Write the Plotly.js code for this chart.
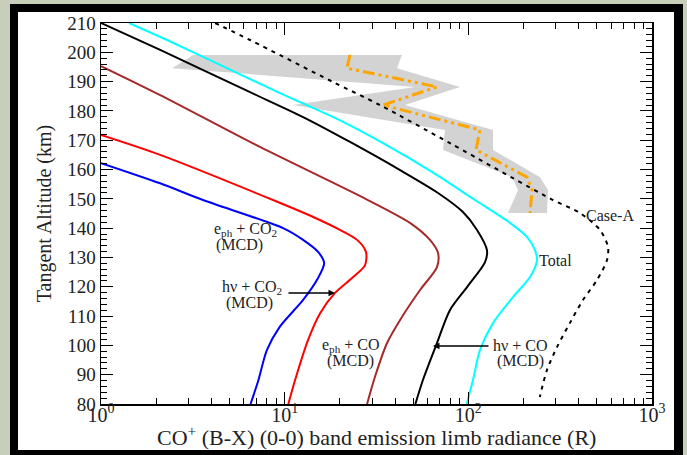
<!DOCTYPE html>
<html><head><meta charset="utf-8">
<script src="https://cdn.plot.ly/plotly-3.0.1.min.js"></script>
<style>
html{margin:0;padding:0;
  background:
    linear-gradient(#ffffff,#ffffff) 18px 12px / 656px 438px no-repeat,
    linear-gradient(#000000,#000000) 10px 4px / 673px 451px no-repeat,
    #c7cfbb;}
body{margin:0;padding:0;background:transparent;}
#chart{width:687px;height:455px;}
</style>
</head><body><div id="chart"></div>
<script>
// e_ph + CO2 (MCD)
const blueAlt = [162.2,155.3,149.6,140.0,136.0,131.9,128.1,123.0,115.5,106.3,98.4,88.2,80];
const blueVal = [1.0,2.10,3.59,9.8,12.6,15.2,16.4,15.2,12.6,9.4,8.0,7.2,6.52];
// hv + CO2 (MCD)
const redAlt = [171.8,165.0,149.6,143.8,139.4,136.0,131.9,127.4,123.3,117.9,111.0,101.8,88.2,80];
const redVal = [1.0,2.10,8.64,14.3,20.0,24.8,27.7,27.4,23.6,18.8,15.6,13.4,11.4,10.47];
// e_ph + CO (MCD)
const brownAlt = [195.3,185.4,167.7,149.6,141.8,136.0,131.5,126.7,118.9,109.7,100.8,89.2,80];
const brownVal = [1.0,2.10,7.34,28.4,48.1,61.8,68.4,67.5,54.6,43.5,36.1,31.0,28.1];
// hv + CO (MCD)
const blackAlt = [210,200.8,186.4,177.9,169.4,159.8,152.0,145.5,139.4,132.5,128.4,119.9,112.1,100.8,88.2,80];
const blackVal = [1.0,2.10,6.48,12.6,22.7,42.5,68.4,93.5,111.5,126.3,123.3,98.4,79.5,67.5,56.6,51.5];
// Total
const totalAlt = [210,204.2,195.7,186.1,177.6,169.0,159.2,149.6,141.8,137.0,132.5,129.1,123.3,116.5,107.6,98.4,88.2,80];
const totalVal = [1.42,2.29,4.45,9.43,18.8,34.3,63.4,108.7,168.6,208.5,230.5,236.5,216.7,175,136.2,115.7,106,98];
// Case-A
const caseAAlt = [210,204.2,189.9,182.0,169.0,149.6,145.2,139.4,133.6,129.1,122.3,115.5,107.6,99.4,91.6,82.4];
const caseAVal = [4.18,6.48,18.3,33.0,79.5,289,405,521,576,569,502,421,357,304,268,245];
// Observation with uncertainty band
const obsAlt = [199.1,194.6,188.2,182.0,173.5,166.7,157.4,153.0,145.2];
const obsVal = [22.7,21.8,67.5,34.3,115.7,110.1,208.5,222.4,216.7];
const obsLow = [3.17,2.44,51.2,11.1,74.6,72.8,172.9,186.4,164.4];
const obsHigh = [43.5,40.9,90.1,45.2,136.2,136.2,245.6,271.5,268.1];

const xTickVals = [1,10,100,1000];
const xTickText = ['10<sup>0</sup>','10<sup>1</sup>','10<sup>2</sup>','10<sup>3</sup>'];

const X0=101, X1=652, Y0=404, Y1=23;
const pxX = x => (x-X0)/(X1-X0);
const pxY = y => (Y0-y)/(Y0-Y1);

const serif = 'Liberation Serif, Times New Roman, serif';
function line(x,y,color,extra){return Object.assign({type:'scatter',mode:'lines',x:x,y:y,line:{color:color,width:2,shape:'spline',smoothing:0.8},hoverinfo:'skip',showlegend:false},extra||{});}

const traces = [
  {type:'scatter',mode:'lines',x:obsLow.concat(obsHigh.slice().reverse()),y:obsAlt.concat(obsAlt.slice().reverse()),
   fill:'toself',fillcolor:'#d3d3d3',line:{width:0,color:'#d3d3d3'},showlegend:false,hoverinfo:'skip'},
  line(blueVal,blueAlt,'#0000ff'),
  line(redVal,redAlt,'#ff0000'),
  line(brownVal,brownAlt,'#a52a2a'),
  line(blackVal,blackAlt,'#000000'),
  line(totalVal,totalAlt,'#00ffff'),
  line(caseAVal,caseAAlt,'#000000',{line:{color:'#000',width:2,dash:'4px,5px',shape:'spline',smoothing:0.8}}),
  line(obsVal,obsAlt,'#ffa500',{line:{color:'#ffa500',width:3,dash:'12px,4px,3px,4px,3px,4px'}})
];

function txt(t,x,y,xanchor,size){return {text:t,xref:'paper',yref:'paper',x:pxX(x),y:pxY(y),xanchor:xanchor||'center',yanchor:'middle',showarrow:false,font:{family:serif,size:size||16,color:'#222'}};}
function arrow(hx,hy,tx,ty){return {text:'',xref:'paper',yref:'paper',x:pxX(hx),y:pxY(hy),ax:tx-hx,ay:ty-hy,showarrow:true,arrowhead:2,arrowsize:1,arrowwidth:1.3,arrowcolor:'#000'};}

const annotations = [
  txt('e<sub>ph</sub> + CO<sub>2</sub>',245,229),
  txt('(MCD)',239,245),
  txt('hν + CO<sub>2</sub>',252,287),
  txt('(MCD)',249,303),
  arrow(335,293,287,293),
  txt('e<sub>ph</sub> + CO',351,345),
  txt('(MCD)',350,361),
  txt('hν + CO',520,345),
  txt('(MCD)',520,361),
  arrow(433,346,490,346),
  txt('Total',537,260,'left'),
  txt('Case-A',584,215,'left'),
  txt('CO<sup>+</sup> (B-X) (0-0) band emission limb radiance (R)',376,436,'center',22)
];

const layout = {
  width:687,height:455,
  margin:{l:101,r:35,t:23,b:51},
  paper_bgcolor:'rgba(0,0,0,0)',plot_bgcolor:'#ffffff',
  showlegend:false,
  font:{family:serif,color:'#222'},
  xaxis:{type:'log',range:[0,3],showline:true,linecolor:'#000',linewidth:1.5,mirror:'ticks',
    ticks:'inside',ticklen:12,tickwidth:1,tickcolor:'#000',tickmode:'array',tickvals:xTickVals,ticktext:xTickText,
    ticklabelstandoff:-8,
    minor:{dtick:'D1',ticks:'inside',ticklen:6,tickwidth:1,tickcolor:'#000',showgrid:false},
    showgrid:false,zeroline:false,tickfont:{family:serif,size:20,color:'#222'}},
  yaxis:{range:[80,210],showline:true,linecolor:'#000',linewidth:1.5,mirror:'ticks',
    ticks:'inside',ticklen:12,tickwidth:1,tickcolor:'#000',dtick:10,tick0:80,
    minor:{dtick:2,ticks:'inside',ticklen:6,tickwidth:1,tickcolor:'#000',showgrid:false},
    showgrid:false,zeroline:false,tickfont:{family:serif,size:19,color:'#222'},
    title:{text:'Tangent Altitude (km)',font:{family:serif,size:20,color:'#222'}}},
  annotations:annotations
};

Plotly.newPlot('chart',traces,layout,{displayModeBar:false,staticPlot:true});
</script></body></html>
